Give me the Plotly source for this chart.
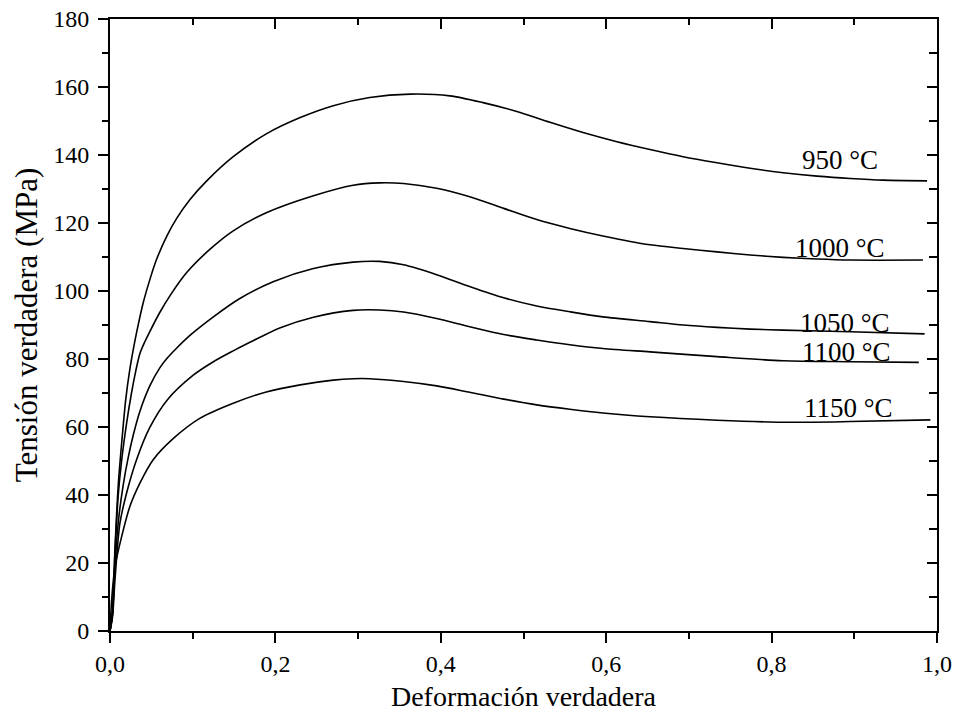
import plotly.graph_objects as go

# ---- data ----
labels = ["950 °C", "1000 °C", "1050 °C", "1100 °C", "1150 °C"]

x_950 = [0, 0.003, 0.006, 0.010, 0.014, 0.019, 0.024, 0.028, 0.032, 0.040, 0.048, 0.056, 0.069, 0.081, 0.097,
         0.117, 0.149, 0.189, 0.230, 0.270, 0.314, 0.363, 0.411, 0.451, 0.492, 0.532, 0.572, 0.613, 0.653,
         0.693, 0.734, 0.774, 0.814, 0.855, 0.895, 0.935, 0.988]
y_950 = [0, 6, 24, 43, 55, 68, 77, 82.6, 87.6, 96.4, 103.2, 109.1, 116.3, 121.5, 127.0,
         132.4, 139.5, 146.2, 151.0, 154.5, 156.9, 157.9, 157.4, 155.4, 152.8, 149.6, 146.6, 143.9, 141.6,
         139.5, 137.7, 136.1, 134.8, 133.8, 133.1, 132.6, 132.4]

x_1000 = [0, 0.003, 0.006, 0.010, 0.014, 0.020, 0.026, 0.031, 0.036, 0.042, 0.048, 0.060, 0.073, 0.093, 0.121,
          0.149, 0.189, 0.246, 0.294, 0.326, 0.355, 0.395, 0.435, 0.476, 0.516, 0.556, 0.596, 0.653,
          0.693, 0.734, 0.774, 0.814, 0.855, 0.895, 0.983]
y_1000 = [0, 5, 23, 40, 50, 61, 70, 76.3, 81.5, 85.0, 88.0, 93.6, 98.8, 105.5, 112.3,
          117.7, 123.0, 128.0, 131.1, 131.8, 131.6, 130.2, 127.7, 124.3, 121.0, 118.4, 116.2, 113.6,
          112.5, 111.5, 110.6, 109.9, 109.4, 109.1, 109.1]

x_1050 = [0, 0.003, 0.006, 0.010, 0.016, 0.022, 0.028, 0.036, 0.048, 0.060, 0.069, 0.079, 0.097, 0.125,
          0.157, 0.198, 0.246, 0.294, 0.326, 0.355, 0.395, 0.435, 0.476, 0.516, 0.556, 0.596, 0.653,
          0.693, 0.734, 0.774, 0.814, 0.895, 0.985]
y_1050 = [0, 5, 19, 32, 43, 51, 57.5, 64.5, 72.0, 77.3, 80.2, 82.8, 87.0, 92.4,
          97.8, 102.8, 106.6, 108.5, 108.7, 107.7, 104.8, 101.3, 98.0, 95.6, 93.9, 92.4, 91.0,
          90.0, 89.3, 88.8, 88.5, 88.0, 87.4]

x_1100 = [0, 0.003, 0.006, 0.012, 0.020, 0.032, 0.048, 0.069, 0.101, 0.125, 0.149, 0.165, 0.206, 0.246,
          0.294, 0.326, 0.355, 0.395, 0.435, 0.476, 0.516, 0.556, 0.596, 0.653, 0.734, 0.814, 0.895, 0.978]
y_1100 = [0, 4, 15, 31.7, 40.5, 50.3, 59.8, 67.9, 75.3, 79.2, 82.4, 84.4, 89.2, 92.3,
          94.3, 94.4, 93.8, 91.9, 89.5, 87.2, 85.6, 84.2, 83.1, 82.1, 80.7, 79.5, 79.2, 79.0]

x_1150 = [0, 0.002, 0.006, 0.014, 0.024, 0.036, 0.052, 0.077, 0.109, 0.149, 0.189, 0.230, 0.270, 0.294,
          0.314, 0.355, 0.395, 0.435, 0.476, 0.516, 0.556, 0.596, 0.653, 0.734, 0.814, 0.895, 0.992]
y_1150 = [0, 9.1, 18.9, 27.7, 36.6, 43.4, 50.3, 56.7, 62.6, 67.0, 70.3, 72.4, 73.8, 74.2,
          74.2, 73.4, 72.1, 70.2, 68.2, 66.5, 65.2, 64.1, 63.0, 62.0, 61.4, 61.6, 62.1]

xs = [x_950, x_1000, x_1050, x_1100, x_1150]
ys = [y_950, y_1000, y_1050, y_1100, y_1150]

# label placement (text positions)
label_pos = [(0.883, 138.5), (0.883, 112.6), (0.889, 90.5), (0.891, 82.1), (0.893, 65.5)]

FONT = "Liberation Serif, Times New Roman, serif"

fig = go.Figure()
for x, y, name in zip(xs, ys, labels):
    fig.add_trace(go.Scatter(x=x, y=y, mode="lines", name=name,
                             line=dict(color="black", width=1.6, shape="spline", smoothing=0.8),
                             showlegend=False))

# dummy trace to activate mirror axes (top / right with inward ticks)
fig.add_trace(go.Scatter(x=[None], y=[None], xaxis="x2", yaxis="y2", showlegend=False,
                         hoverinfo="skip"))

for (lx, ly), txt in zip(label_pos, labels):
    fig.add_annotation(x=lx, y=ly, text=txt, showarrow=False,
                       font=dict(family=FONT, size=27, color="black"),
                       xanchor="center", yanchor="middle")

axis_common = dict(showline=True, linecolor="black", linewidth=2, showgrid=False, zeroline=False,
                   tickcolor="black", tickwidth=2, mirror=False, automargin=False)

fig.update_layout(
    width=958, height=720,
    paper_bgcolor="white", plot_bgcolor="white",
    margin=dict(l=110, r=21, t=19, b=89),
    separators=",.",
    font=dict(family=FONT, size=24, color="black"),
    xaxis=dict(range=[0, 1], dtick=0.2, tick0=0, tickformat=".1f", ticks="outside", ticklen=10,
               ticklabelstandoff=0, ticklabeloverflow="allow",
               minor=dict(dtick=0.1, ticks="outside", ticklen=6, tickwidth=2, tickcolor="black"),
               title=dict(text="Deformación verdadera", font=dict(family=FONT, size=28), standoff=11),
               tickfont=dict(family=FONT, size=24),
               **axis_common),
    yaxis=dict(range=[0, 180], dtick=20, tick0=0, ticks="outside", ticklen=10,
               ticklabelstandoff=4, ticklabeloverflow="allow",
               minor=dict(dtick=10, ticks="outside", ticklen=6, tickwidth=2, tickcolor="black"),
               title=dict(text="Tensión verdadera (MPa)", font=dict(family=FONT, size=31), standoff=6),
               tickfont=dict(family=FONT, size=24),
               **axis_common),
    xaxis2=dict(overlaying="x", side="top", range=[0, 1], dtick=0.2, tick0=0, ticks="inside",
                ticklen=10, showticklabels=False,
                minor=dict(dtick=0.1, ticks="inside", ticklen=6, tickwidth=2, tickcolor="black"),
                **axis_common),
    yaxis2=dict(overlaying="y", side="right", range=[0, 180], dtick=20, tick0=0, ticks="inside",
                ticklen=10, showticklabels=False,
                minor=dict(dtick=10, ticks="inside", ticklen=8, tickwidth=2, tickcolor="black"),
                **axis_common),
)

# remove the default 8px page margin so the 958x720 figure fills the window exactly
fig.write_html("out.html", config={"displayModeBar": False},
               post_script="document.body.style.margin='0';")
